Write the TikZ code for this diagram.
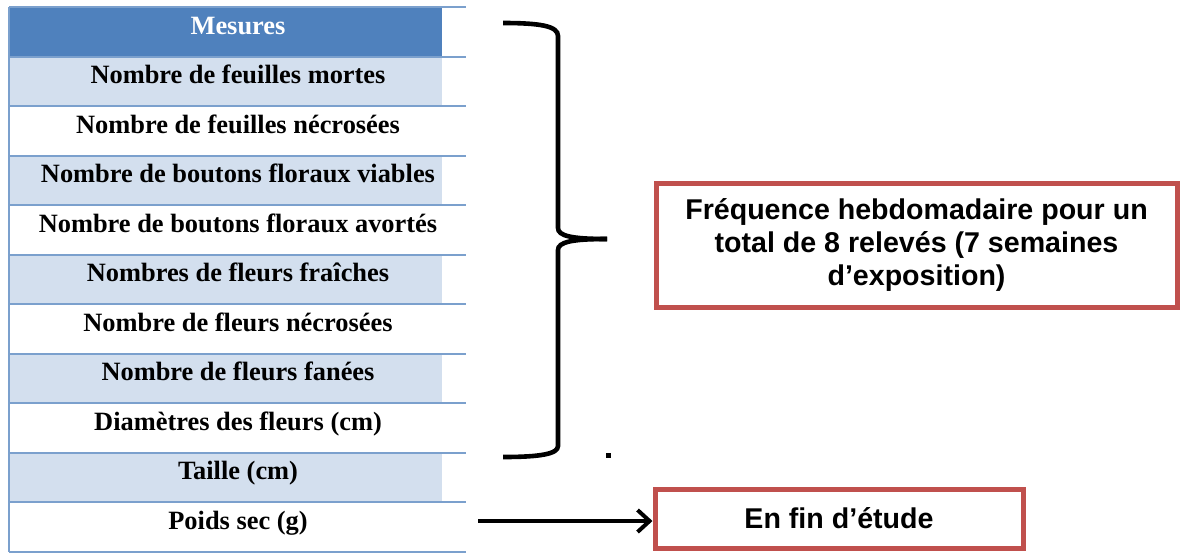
\documentclass[tikz,border=0pt]{standalone}
\usepackage{fontspec}
\setmainfont{Liberation Serif}
\setsansfont{Liberation Sans}
\usetikzlibrary{arrows.meta}

\definecolor{entete}{HTML}{4F81BD}
\definecolor{clair}{HTML}{D3DFEE}
\definecolor{trait}{HTML}{7BA0CD}
\definecolor{rouge}{HTML}{C0504D}

\tikzset{
  mesure/.style={anchor=base,font=\fontsize{13.2}{15}\selectfont\bfseries},
  cadre/.style={draw=rouge,line width=2.5pt,fill=white,align=center,
    font=\fontsize{14.3}{16.5}\selectfont\sffamily\bfseries},
  accolade/.style={line width=2.3pt},
  fleche/.style={line width=2pt,-{Straight Barb[length=6pt,width=11pt]}},
}

\begin{document}
\begin{tikzpicture}[x=0.5pt,y=-0.5pt]
\useasboundingbox (0,0) rectangle (1183,553);
% fonds du tableau
\fill[entete] (9,7) rectangle (442,57);
\fill[clair] (9,57) rectangle (442,106);
\fill[clair] (9,156) rectangle (442,205);
\fill[clair] (9,255) rectangle (442,304);
\fill[clair] (9,354) rectangle (442,403);
\fill[clair] (9,453) rectangle (442,502);
% traits du tableau
\draw[trait,line width=1.3pt] (9,7) -- (466,7) (9,57) -- (466,57) (9,106) -- (466,106)
  (9,156) -- (466,156) (9,205) -- (466,205) (9,255) -- (466,255) (9,304) -- (466,304)
  (9,354) -- (466,354) (9,403) -- (466,403) (9,453) -- (466,453) (9,502) -- (466,502)
  (9,552) -- (466,552) (9,7) -- (9,552);
% lignes
\node[mesure,text=white] (mesures) at (238,34) {Mesures};
\node[mesure] (fmortes) at (238,83.5) {Nombre de feuilles mortes};
\node[mesure] (fnecro) at (238,133) {Nombre de feuilles nécrosées};
\node[mesure] (bviables) at (238,182.5) {Nombre de boutons floraux viables};
\node[mesure] (bavortes) at (238,232) {Nombre de boutons floraux avortés};
\node[mesure] (fraiches) at (238,281.5) {Nombres de fleurs fraîches};
\node[mesure] (flnecro) at (238,331) {Nombre de fleurs nécrosées};
\node[mesure] (fanees) at (238,380.5) {Nombre de fleurs fanées};
\node[mesure] (diam) at (238,430) {Diamètres des fleurs (cm)};
\node[mesure] (taille) at (238,479.5) {Taille (cm)};
\node[mesure] (poids) at (238,529) {Poids sec (g)};
% accolade
\draw[accolade] (503,23) .. controls (540,23) and (558,26) .. (558,36) -- (558,228)
  .. controls (558,236) and (572,239) .. (607,239);
\draw[accolade] (607,239) .. controls (572,239) and (558,242) .. (558,250) -- (558,446)
  .. controls (558,454) and (540,457) .. (503,457);
\fill (605.5,452.5) rectangle (610.5,457.5);
% cadres
\node[cadre,minimum width=260.5pt,minimum height=62pt] (freq) at (916.5,245)
  {Fréquence hebdomadaire pour un\\total de 8 relevés (7 semaines\\d’exposition)};
\node[cadre,minimum width=184pt,minimum height=29.5pt] (fin) at (839,518.5) {En fin d’étude};
\coordinate (depart) at (478,521);
\draw[fleche] (depart) -- (depart -| fin.west);
\end{tikzpicture}
\end{document}
